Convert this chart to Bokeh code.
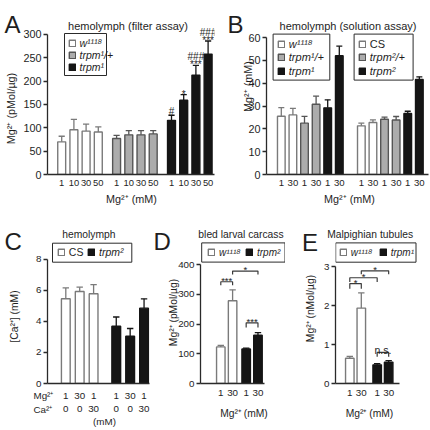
import math
from bokeh.plotting import figure
from bokeh.models import Range1d, FixedTicker, Legend, LegendItem, GridBox, BoxAnnotation
from bokeh.layouts import row
from bokeh.embed import file_html
from bokeh.resources import INLINE
from bokeh.core.properties import value

# ---------------- data ----------------
A_title = "hemolymph (filter assay)"
A_doses = ["1", "10", "30", "50"]
A_genotypes = ["w¹¹¹⁸", "trpm¹/+", "trpm¹"]
A_mean = [[70, 96, 93, 91], [77, 85, 85, 87], [116, 159, 213, 258]]
A_err = [[12, 22, 15, 11], [7, 9, 9, 7], [11, 12, 21, 28]]
A_sig_near = ["#", "*", "***", "***"]
A_sig_far = ["", "", "###", "###"]
A_yticks = [0, 50, 100, 150, 200, 250, 300]

B_title = "hemolymph (solution assay)"
B_doses = ["1", "30"]
B_genotypes = [["w¹¹¹⁸", "trpm¹/+", "trpm¹"], ["CS", "trpm²/+", "trpm²"]]
B_mean = [[[25.5, 26.1], [22.5, 30.8], [29.2, 52.0]],
          [[21.3, 22.8], [24.2, 23.9], [26.7, 41.6]]]
B_err = [[[3.8, 2.9], [3.0, 3.5], [3.5, 4.2]],
         [[1.2, 1.1], [0.9, 1.5], [1.0, 1.2]]]
B_yticks = [0, 10, 20, 30, 40, 50, 60]

C_title = "hemolymph"
C_genotypes = ["CS", "trpm²"]
C_mg = ["1", "30", "1"]
C_ca = ["0", "0", "30"]
C_mean = [[5.45, 5.92, 5.78], [3.68, 3.04, 4.85]]
C_err = [[0.7, 0.28, 0.58], [0.6, 0.5, 0.6]]
C_yticks = [0, 2, 4, 6, 8]

D_title = "bled larval carcass"
D_genotypes = ["w¹¹¹⁸", "trpm²"]
D_doses = ["1", "30"]
D_mean = [[123, 278], [116, 162]]
D_err = [[5, 37], [3, 9]]
D_sig = [((0, 0), (0, 1), "***"), ((0, 1), (1, 1), "*"), ((1, 0), (1, 1), "***")]
D_yticks = [0, 100, 200, 300, 400]

E_title = "Malpighian tubules"
E_genotypes = ["w¹¹¹⁸", "trpm¹"]
E_doses = ["1", "30"]
E_mean = [[0.65, 1.94], [0.48, 0.55]]
E_err = [[0.05, 0.39], [0.03, 0.04]]
E_sig = [((0, 0), (0, 1), "*"), ((0, 0), (1, 0), "*"), ((0, 1), (1, 1), "*"), ((1, 0), (1, 1), "n.s.")]
E_yticks = [0, 1, 2, 3]

UPRIGHT = {"CS"}   # wild-type strain names are set upright, genotypes in italics

# ---------------- style / layout ----------------
PAGE = 430
FONT = "Liberation Sans"
TXT = "#1e1e1e"
AXC = "#2a2a2a"
FILL3 = ["#ffffff", "#acacac", "#151515"]
EDGE3 = ["#7a7a7a", "#555555", "#151515"]
FILL2 = [FILL3[0], FILL3[2]]
EDGE2 = [EDGE3[0], EDGE3[2]]


def fs(v):
    return f"{v:.2f}px"


class Panel:
    def __init__(self, fx, fy, fw, fh, L, R, B, k, X0, dx, R_line=None):
        self.L, self.B, self.dx, self.X0, self.k = L, B, dx, X0, k
        bl = round(L - fx)
        br = round(fx + fw - R)
        bb = round(fy + fh - B)
        fw_px = fw - bl - br
        fh_px = fh - bb
        x0 = (L - X0) / dx
        x1 = x0 + fw_px / dx
        self.xbounds = (x0, ((R_line if R_line else R) - X0) / dx)
        ytop = fh_px / k
        p = figure(width=fw, height=fh, x_range=Range1d(x0, x1), y_range=Range1d(0, ytop),
                   toolbar_location=None, output_backend="svg", title=None,
                   min_border_left=bl, min_border_right=br, min_border_top=0,
                   min_border_bottom=bb)
        p.outline_line_color = None
        p.xgrid.grid_line_color = None
        p.ygrid.grid_line_color = None
        p.background_fill_color = "white"
        self.p = p

    def dx_(self, px):
        return (px - self.X0) / self.dx

    def dy_(self, py):
        return (self.B - py) / self.k

    def axes(self, yticks, ysize, xticks, xlabels, xsize, xstandoff):
        p = self.p
        ya = p.yaxis[0]
        ya.ticker = FixedTicker(ticks=yticks)
        ya.bounds = (0, yticks[-1])
        ya.major_tick_out = 4
        ya.major_tick_in = 0
        ya.minor_tick_out = 0
        ya.minor_tick_in = 0
        ya.major_label_standoff = 2
        ya.axis_line_color = AXC
        ya.axis_line_width = 1.3
        ya.major_tick_line_color = AXC
        ya.major_tick_line_width = 1.3
        ya.major_label_text_font = FONT
        ya.major_label_text_font_size = fs(ysize)
        ya.major_label_text_color = TXT
        xa = p.xaxis[0]
        xa.ticker = FixedTicker(ticks=xticks)
        xa.bounds = self.xbounds
        xa.major_label_overrides = dict(zip(xticks, xlabels))
        xa.major_tick_out = 0
        xa.major_tick_in = 0
        xa.minor_tick_out = 0
        xa.minor_tick_in = 0
        xa.major_tick_line_color = None
        xa.axis_line_color = AXC
        xa.axis_line_width = 1.3
        xa.major_label_standoff = round(xstandoff)
        xa.major_label_text_font = FONT
        xa.major_label_text_font_size = fs(xsize)
        xa.major_label_text_color = TXT

    def bars(self, xs, tops, errs, fill, edge, bw, cap):
        p = self.p
        r = p.vbar(x=xs, top=tops, bottom=0, width=bw, fill_color=fill,
                   line_color=edge, line_width=1.4)
        ends = [t + e for t, e in zip(tops, errs)]
        cw = cap / self.dx
        p.segment(x0=xs, y0=tops, x1=xs, y1=ends, line_color=edge, line_width=1.3)
        p.segment(x0=[x - cw for x in xs], y0=ends, x1=[x + cw for x in xs], y1=ends,
                  line_color=edge, line_width=1.3)
        return r, ends

    def marks(self, xs, ys, texts, size, yoff):
        self.p.text(x=xs, y=ys, text=texts, text_align="center", text_baseline="alphabetic",
                    y_offset=yoff, text_font=value(FONT), text_font_size=value(fs(size)),
                    text_color=TXT)

    def bracket(self, xa, xb, ylo, yhi, text, size, yoff):
        self.p.multi_line(xs=[[xa, xa, xb, xb]], ys=[[ylo, yhi, yhi, ylo]],
                          line_color="#3a3a3a", line_width=1.2)
        self.marks([(xa + xb) / 2], [yhi], [text], size, yoff)

    def legend(self, labels, rends, box, slots, size, row_h, glyph=7.5, standoff=3.5):
        """box = (left, top, right, bottom) px; slots = [(glyph_left_px, row_center_px)]"""
        l, t, r, b = box
        self.p.add_layout(BoxAnnotation(left=self.dx_(l), right=self.dx_(r), top=self.dy_(t),
                                        bottom=self.dy_(b), fill_color="white", fill_alpha=1.0,
                                        line_color=AXC, line_width=1, line_alpha=1.0))
        for lab, rr, (gx, ry) in zip(labels, rends, slots):
            leg = Legend(items=[LegendItem(label=lab, renderers=[rr])],
                         location=(gx - self.L, self.B - (ry + row_h / 2)),
                         orientation="vertical", border_line_color=None,
                         background_fill_alpha=0.0, padding=0, spacing=0, margin=0,
                         glyph_width=round(glyph), glyph_height=round(glyph),
                         label_standoff=round(standoff), label_width=0,
                         label_height=round(row_h), label_text_font=FONT,
                         label_text_font_size=fs(size),
                         label_text_font_style="normal" if lab in UPRIGHT else "italic",
                         label_text_color=TXT)
            self.p.add_layout(leg)


# overlay figure for panel letters, titles and axis titles (page coordinates)
ov = figure(width=PAGE, height=PAGE, x_range=Range1d(0, PAGE), y_range=Range1d(0, PAGE),
            x_axis_type=None, y_axis_type=None, toolbar_location=None, output_backend="svg",
            title=None, min_border=0, min_border_left=0, min_border_right=0,
            min_border_top=0, min_border_bottom=0)
ov.xgrid.visible = False
ov.ygrid.visible = False
ov.outline_line_color = None
ov.background_fill_color = None
ov.border_fill_color = None


def otext(text, x, y, size, align="center", baseline="alphabetic", angle=0.0):
    ov.text(x=[x], y=[PAGE - y], text=[text], angle=angle, text_align=align,
            text_baseline=baseline, text_font=value(FONT), text_font_size=value(fs(size)),
            text_color=TXT)


VERT = math.pi / 2

# ---------------- A ----------------
pa = Panel(0, 0, 215, 215, L=47, R=214, B=174, k=0.4667, X0=61.2, dx=12.2)
A_x = [[g * 4.5 + i for i in range(len(A_doses))] for g in range(3)]
A_r = []
for g in range(3):
    r, ends = pa.bars(A_x[g], A_mean[g], A_err[g], FILL3[g], EDGE3[g], 0.65, 3.1)
    A_r.append(r)
    if g == 2:
        A_ends = ends
near_off = {"#": -4.0, "*": 0.0, "***": -1.0}
for xv, yv, t in zip(A_x[2], A_ends, A_sig_near):
    pa.marks([xv], [yv], [t], 10, near_off[t])
far = [(xv, yv, t) for xv, yv, t in zip(A_x[2], A_ends, A_sig_far) if t]
pa.marks([f[0] for f in far], [f[1] for f in far], [f[2] for f in far], 10, -8.5)
pa.axes(A_yticks, 10.8, sum(A_x, []), A_doses * 3, 9.4, 5)
pa.legend(A_genotypes, A_r, (64, 33, 106, 75), [(67.5, 43.5), (67.5, 55.1), (67.5, 66.7)], 10.5, 11.6)
otext(A_title, 127.5, 25, 11)
otext("A", 4, 23.5, 24, align="left")
otext("Mg²⁺ (pMol/µg)", 10, 108, 10.8, baseline="middle", angle=VERT)
otext("Mg²⁺ (mM)", 131, 198, 10.8)

# ---------------- B ----------------
pb = Panel(215, 0, 215, 215, L=265.7, R=428, B=173.7, k=2.283, X0=280.5, dx=11.6)
B_x = []
B_r = [[], []]
for s in range(2):
    for c in range(3):
        xs = [s * 6.9 + c * 2 + d for d in range(len(B_doses))]
        B_x += xs
        r, _ = pb.bars(xs, B_mean[s][c], B_err[s][c], FILL3[c], EDGE3[c], 0.66, 3.0)
        B_r[s].append(r)
pb.axes(B_yticks, 10.8, B_x, B_doses * 6, 9.6, 5)
B_rows = [43.3, 57.0, 70.7]
pb.legend(B_genotypes[0], B_r[0], (272.3, 33.3, 329, 79.3), [(276.5, y) for y in B_rows], 11, 13)
pb.legend(B_genotypes[1], B_r[1], (353.3, 33.3, 412.3, 79.3), [(357.5, y) for y in B_rows], 11, 13)
otext(B_title, 347.5, 25, 11)
otext("B", 227, 23.5, 24, align="left")
otext("Mg²⁺ (mM)", 247, 86, 10.8, baseline="middle", angle=VERT)
otext("Mg²⁺ (mM)", 349, 198, 10.8)

# ---------------- C ----------------
pc = Panel(0, 215, 150, 215, L=46.7, R=149, B=383.3, k=15.54, X0=65, dx=13.9)
C_x = []
C_r = []
for g in range(2):
    xs = [g * 3.63 + i for i in range(len(C_mg))]
    C_x += xs
    r, _ = pc.bars(xs, C_mean[g], C_err[g], FILL2[g], EDGE2[g], 0.63, 3.2)
    C_r.append(r)
pc.axes(C_yticks, 9.8, C_x, [f"{m}\n{c}" for m, c in zip(C_mg, C_ca)] * 2, 9.8, 6)
pc.legend(C_genotypes, C_r, (51.7, 243, 131, 262), [(56.5, 252.5), (86.7, 252.5)], 10.5, 12)
otext(C_title, 88.3, 234, 10.3)
otext("C", 4, 241, 24, align="left")
otext("[Ca²⁺] (mM)", 14, 316, 10.3, baseline="middle", angle=VERT)
otext("Mg²⁺", 33, 395, 9.8, align="left", baseline="middle")
otext("Ca²⁺", 33, 408.5, 9.8, align="left", baseline="middle")
otext("(mM)", 104, 421, 9.8, baseline="middle")

# ---------------- D ----------------
pd_ = Panel(150, 215, 135, 215, L=200, R=285, B=383.3, k=0.2975, X0=220.3, dx=11.8, R_line=264)
D_x = [[g * 2.15 + i for i in range(len(D_doses))] for g in range(2)]
D_r = []
for g in range(2):
    r, _ = pd_.bars(D_x[g], D_mean[g], D_err[g], FILL2[g], EDGE2[g], 0.72, 3.2)
    D_r.append(r)
D_sig_y = [(330, 342), (366, 378), (188, 204)]
for ((ga, da), (gb, db), t), (ylo, yhi) in zip(D_sig, D_sig_y):
    pd_.bracket(D_x[ga][da], D_x[gb][db], ylo, yhi, t, 9.5, -1.5)
pd_.axes(D_yticks, 9.8, sum(D_x, []), D_doses * 2, 9.8, 6)
pd_.legend(D_genotypes, D_r, (201.2, 242.7, 284.5, 261.9), [(207, 252.3), (245, 252.3)], 10, 12)
otext(D_title, 240.5, 234, 10.3)
otext("D", 153, 241, 24, align="left")
otext("Mg²⁺ (pMol/µg)", 173, 312, 10.3, baseline="middle", angle=VERT)
otext("Mg²⁺ (mM)", 243.5, 413, 10.3)

# ---------------- E ----------------
pe = Panel(285, 215, 145, 215, L=335, R=430, B=383.3, k=38.87, X0=349.3, dx=11.5, R_line=398.5)
E_x = [[g * 2.38 + i for i in range(len(E_doses))] for g in range(2)]
E_r = []
for g in range(2):
    r, _ = pe.bars(E_x[g], E_mean[g], E_err[g], FILL2[g], EDGE2[g], 0.74, 3.2)
    E_r.append(r)
E_sig_y = [(2.44, 2.57), (2.61, 2.72), (2.81, 2.90), (0.69, 0.80)]
for ((ga, da), (gb, db), t), (ylo, yhi) in zip(E_sig, E_sig_y):
    if t == "n.s.":
        pe.bracket(E_x[ga][da], E_x[gb][db], ylo, yhi, t, 10.5, -2.5)
    else:
        pe.bracket(E_x[ga][da], E_x[gb][db], ylo, yhi, t, 9.5, -1.5)
pe.axes(E_yticks, 9.8, sum(E_x, []), E_doses * 2, 9.8, 6)
pe.legend(E_genotypes, E_r, (335.2, 242.7, 415.5, 262), [(338.7, 252.3), (378.7, 252.3)], 10, 12)
otext(E_title, 369.7, 234, 10.3)
otext("E", 301.5, 241.5, 24, align="left")
otext("Mg²⁺ (nMol/µg)", 310, 308, 10.3, baseline="middle", angle=VERT)
otext("Mg²⁺ (mM)", 369, 413, 10.3)

top = row(pa.p, pb.p, spacing=0)
bottom = row(pc.p, pd_.p, pe.p, spacing=0)
layout = GridBox(children=[(top, 0, 0), (bottom, 1, 0), (ov, 0, 0, 2, 1)], spacing=0)
open("out.html", "w").write(file_html(layout, INLINE))
